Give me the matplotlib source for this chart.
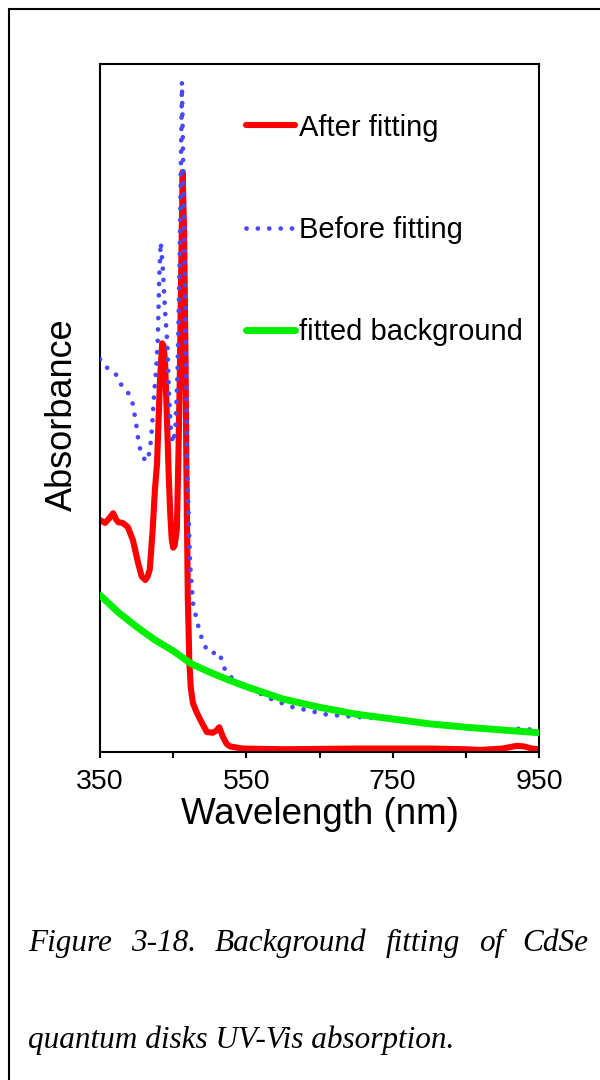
import matplotlib
matplotlib.use("Agg")
import matplotlib.pyplot as plt
import matplotlib.patches as patches

plt.rcParams['font.family'] = ['Liberation Sans', 'DejaVu Sans']

# "Before fitting" (blue dotted)
wl_before = [350, 357, 366, 375, 380, 387, 394, 399, 403, 407, 413, 418, 421, 424,
             427, 429, 431, 433, 436, 439, 442, 444, 447, 450, 453, 456, 459, 462,
             465, 468, 469, 471, 473, 477, 483, 487, 491, 499, 506, 513, 517, 522,
             532, 545, 559, 586, 614, 637, 655, 700, 733, 778, 824, 869, 914, 928,
             940, 950]
abs_before = [0.571, 0.560, 0.555, 0.545, 0.531, 0.525, 0.510, 0.480, 0.448, 0.432,
              0.422, 0.436, 0.470, 0.520, 0.560, 0.600, 0.690, 0.741, 0.700, 0.640,
              0.594, 0.526, 0.464, 0.449, 0.468, 0.550, 0.720, 0.974, 0.760, 0.541,
              0.420, 0.347, 0.275, 0.217, 0.188, 0.173, 0.158, 0.144, 0.144, 0.145,
              0.131, 0.116, 0.106, 0.096, 0.090, 0.076, 0.065, 0.060, 0.055, 0.051,
              0.049, 0.044, 0.039, 0.035, 0.032, 0.035, 0.032, 0.031]

# "After fitting" (red)
wl_after = [350, 357, 363, 368, 372, 375, 381, 388, 395, 402, 407, 412, 415, 418,
            422, 425, 428, 432, 435, 437, 439, 442, 444, 446, 448, 450, 452, 455,
            457, 459, 461, 463, 465, 467, 468, 469, 470, 471, 472, 474, 477, 482,
            487, 496, 504, 509, 513, 518, 523, 528, 545, 600, 700, 800, 850, 870,
            900, 920, 930, 940, 950]
abs_after = [0.337, 0.333, 0.340, 0.347, 0.338, 0.334, 0.333, 0.327, 0.308, 0.275,
             0.255, 0.250, 0.255, 0.265, 0.323, 0.380, 0.420, 0.541, 0.594, 0.590,
             0.565, 0.468, 0.400, 0.347, 0.310, 0.297, 0.300, 0.323, 0.420, 0.541,
             0.700, 0.843, 0.750, 0.560, 0.420, 0.323, 0.225, 0.182, 0.134, 0.094,
             0.071, 0.058, 0.047, 0.029, 0.028, 0.031, 0.036, 0.022, 0.012, 0.008,
             0.005, 0.004, 0.005, 0.005, 0.004, 0.003, 0.005, 0.009, 0.008, 0.005,
             0.004]

# fitted background (green)
wl_bg = [350, 375, 400, 425, 450, 475, 500, 525, 550, 600, 650, 700, 750, 800,
         850, 900, 950]
abs_bg = [0.228, 0.203, 0.182, 0.163, 0.147, 0.128, 0.116, 0.105, 0.095, 0.077,
          0.065, 0.055, 0.048, 0.041, 0.036, 0.032, 0.028]

labels = ['After fitting', 'Before fitting', 'fitted background']
major_ticks = [350, 550, 750, 950]
minor_ticks = [450, 650, 850]

caption1 = ["Figure", "3-18.", "Background", "fitting", "of", "CdSe"]
caption2 = "quantum disks UV-Vis absorption."


fig = plt.figure(figsize=(6, 10.8), dpi=100)
ax = fig.add_axes([100 / 600, 1 - 752 / 1080, 439 / 600, 688 / 1080])

l1, = ax.plot(wl_after, abs_after, color='#ff0000', lw=4.4, zorder=2,
              solid_capstyle='round', solid_joinstyle='round')
l2, = ax.plot(wl_before, abs_before, color='#4848ff', lw=3.4, zorder=3,
              linestyle=(0, (0.01, 2.4)), dash_capstyle='round')
l3, = ax.plot(wl_bg, abs_bg, color='#00ee00', lw=5, zorder=4,
              solid_capstyle='round')

ax.set_xlim(350, 950)
ax.set_ylim(0, 1)
ax.set_xticks(major_ticks)
ax.set_xticks(minor_ticks, minor=True)
ax.set_yticks([])
ax.tick_params(axis='x', which='both', direction='out', length=4, width=1.5,
               labelsize=20.5, pad=8)
for s in ax.spines.values():
    s.set_linewidth(1.5)

ax.set_xlabel('Wavelength (nm)', fontsize=26.5, labelpad=2)
ax.set_ylabel('Absorbance', fontsize=26)
ax.yaxis.set_label_coords(-0.045, 0.49)

leg = ax.legend([l1, l2, l3], labels, loc='upper left',
                bbox_to_anchor=(0.305, 0.945), frameon=False, fontsize=21,
                handlelength=1.7, handletextpad=0.12, labelspacing=2.55,
                borderaxespad=0)

# outer frame
fig.add_artist(patches.Rectangle((9 / 600, -0.1), 1.2, 1.1 - 9 / 1080,
                                 transform=fig.transFigure, fill=False,
                                 lw=1.5, ec='black'))

# caption, first line justified
cap_font = dict(family='Liberation Serif', style='italic', fontsize=22.5)
renderer = fig.canvas.get_renderer()
texts = [fig.text(0, 1 - 951 / 1080, w, va='baseline', **cap_font) for w in caption1]
widths = [t.get_window_extent(renderer).width for t in texts]
x0, x1 = 28, 588
gap = (x1 - x0 - sum(widths)) / (len(texts) - 1)
x = x0
for t, w in zip(texts, widths):
    t.set_x(x / 600)
    x += w + gap
fig.text(28 / 600, 1 - 1048 / 1080, caption2, va='baseline', **cap_font)

fig.savefig('out.png', dpi=100)
